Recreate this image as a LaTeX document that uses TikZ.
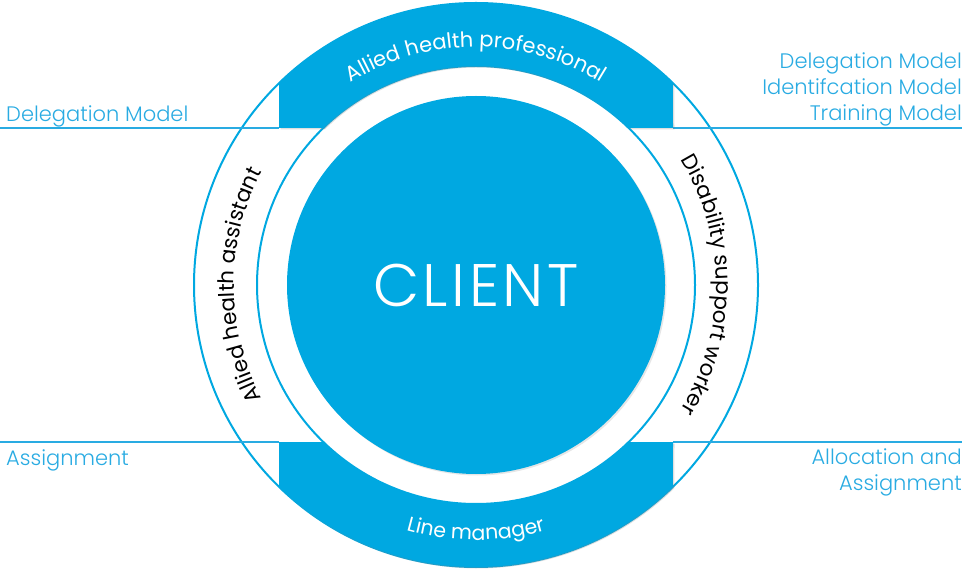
\documentclass[tikz,border=0pt]{standalone}
\usepackage{fontspec}
\setmainfont{Poppins}[UprightFont=* Light]
\newfontfamily\regfont{Poppins}
\usetikzlibrary{decorations.text,shadows}
\definecolor{ahblue}{RGB}{0,168,225}
\definecolor{lblue}{RGB}{41,171,226}
\begin{document}
\begin{tikzpicture}[x=1pt,y=1pt,
  ring/.style={draw=ahblue, line width=2pt},
  band/.style={fill=ahblue, drop shadow={opacity=0.25,shadow xshift=1.5pt,shadow yshift=-1.5pt}},
  sep/.style={draw=lblue, line width=1.1pt},
  lab/.style={text=lblue, font=\fontsize{21}{25}\selectfont, inner sep=0pt},
]
\useasboundingbox (0,0) rectangle (965,570);
\coordinate (C) at (476,285);
% rings
\draw[ring] (C) circle[radius=282pt];
\draw[ring] (C) circle[radius=219pt];
% separator lines
\coordinate (tl0) at (0,442);   \coordinate (tl1) at (279,442);
\coordinate (tr0) at (673,442); \coordinate (tr1) at (962,442);
\coordinate (bl0) at (0,128);   \coordinate (bl1) at (279,128);
\coordinate (br0) at (673,128); \coordinate (br1) at (962,128);
\draw[sep] (tl0) -- (tl1);
\draw[sep] (tr0) -- (tr1);
\draw[sep] (bl0) -- (bl1);
\draw[sep] (br0) -- (br1);
% bands
\path[band] (279,442) -- (279,486.8) arc[start angle=134.3,end angle=45.7,radius=282pt]
  -- (673,442) -- (628.7,442) arc[start angle=45.8,end angle=134.2,radius=219pt] -- cycle;
\path[band] (279,128) -- (279,83.2) arc[start angle=225.7,end angle=314.3,radius=282pt]
  -- (673,128) -- (628.7,128) arc[start angle=314.2,end angle=225.8,radius=219pt] -- cycle;
% client
\node[circle, fill=ahblue, minimum size=378pt, inner sep=0pt, text=white,
  font=\fontsize{60}{64}\selectfont\addfontfeatures{LetterSpace=6},
  drop shadow={opacity=0.2,shadow xshift=1.5pt,shadow yshift=-1.5pt}] (client) at (C) {CLIENT};
% curved texts
\path[decorate, decoration={text along path, text align=center,
  text={|\color{white}\regfont\fontsize{21}{24}\selectfont|Allied health professional}}]
  (C) ++(160:238) arc[start angle=160,end angle=20,radius=238pt];
\path[decorate, decoration={text along path, text align=center,
  text={|\color{white}\regfont\fontsize{20.5}{24}\selectfont|Line manager}}]
  (C) ++(220:255) arc[start angle=220,end angle=320,radius=255pt];
\path[decorate, decoration={text along path, text align=center,
  text={|\color{black}\regfont\fontsize{21.5}{24}\selectfont|Allied health assistant}}]
  (C) ++(240:242) arc[start angle=240,end angle=120,radius=242pt];
\path[decorate, decoration={text along path, text align=center,
  text={|\color{black}\regfont\fontsize{21.5}{24}\selectfont|Disability support worker}}]
  (C) ++(60:240) arc[start angle=60,end angle=-60,radius=240pt];
% labels
\node[lab, anchor=base west] (ldm) at (6,448) {Delegation Model};
\node[lab, anchor=base east] (rdm) at (962,501) {Delegation Model};
\node[lab, anchor=base east] (rim) at (962,475) {Identifcation Model};
\node[lab, anchor=base east] (rtm) at (962,449) {Training Model};
\node[lab, anchor=base west] (las) at (6,105) {Assignment};
\node[lab, anchor=base east] (ral) at (962,106) {Allocation and};
\node[lab, anchor=base east] (ras) at (962,80) {Assignment};
\end{tikzpicture}
\end{document}
